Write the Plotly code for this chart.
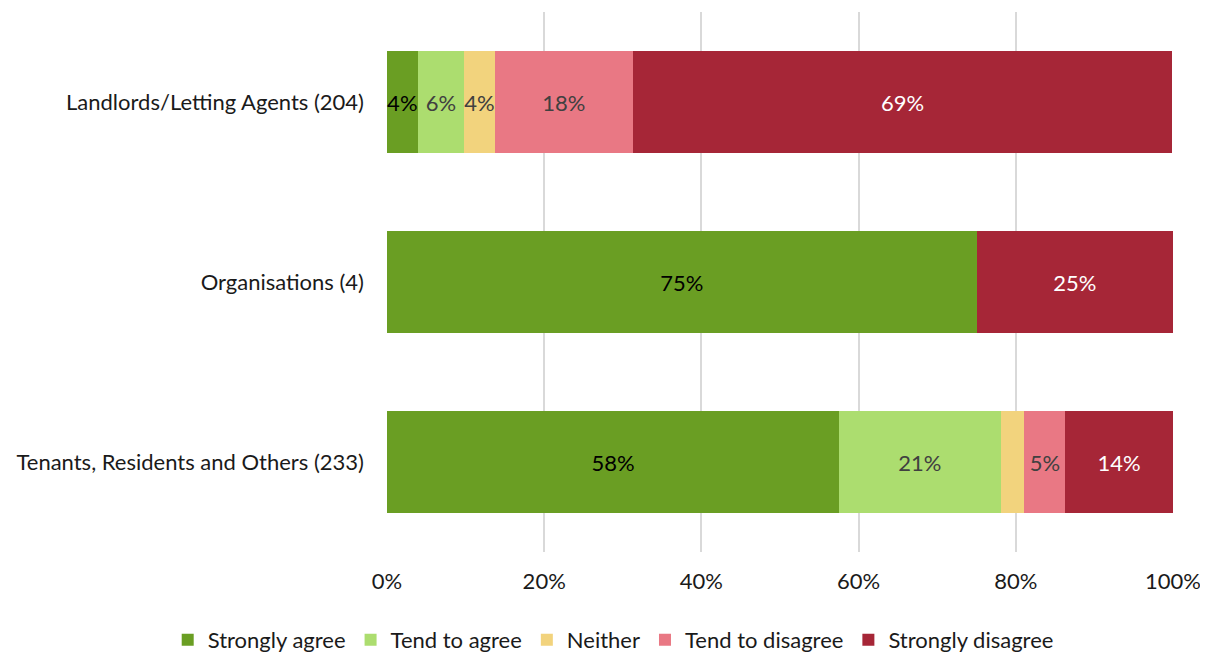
import plotly.graph_objects as go

categories = ["Landlords/Letting Agents (204)", "Organisations (4)", "Tenants, Residents and Others (233)"]
series_names = ["Strongly agree", "Tend to agree", "Neither", "Tend to disagree", "Strongly disagree"]
strongly_agree = [3.9, 75.0, 57.5]
tend_to_agree = [5.9, 0.0, 20.6]
neither = [3.9, 0.0, 3.0]
tend_to_disagree = [17.6, 0.0, 5.2]
strongly_disagree = [68.6, 25.0, 13.7]
labels = [
    ["4%", "75%", "58%"],
    ["6%", "", "21%"],
    ["4%", "", ""],
    ["18%", "", "5%"],
    ["69%", "25%", "14%"],
]
colors = ["#6a9e23", "#acdd6f", "#f2d37d", "#e97884", "#a62637"]
text_colors = ["#000000", "#404040", "#404040", "#404040", "#ffffff"]
tick_vals = [0, 20, 40, 60, 80, 100]
tick_text = ["0%", "20%", "40%", "60%", "80%", "100%"]

values = [strongly_agree, tend_to_agree, neither, tend_to_disagree, strongly_disagree]
FS = 22

fig = go.Figure()
for name, vals, col, tcol, lab in zip(series_names, values, colors, text_colors, labels):
    fig.add_trace(go.Bar(
        name=name, y=categories, x=vals, orientation="h",
        marker=dict(color=col, line=dict(width=0)),
        text=lab, textposition="inside", insidetextanchor="middle",
        textangle=0,
        textfont=dict(color=tcol, size=FS, family="Lato"),
        constraintext="none", cliponaxis=False,
        hoverinfo="x+name",
    ))

fig.update_layout(
    barmode="stack",
    width=1200, height=653,
    margin=dict(l=379, r=35, t=4, b=109, autoexpand=False),
    plot_bgcolor="white", paper_bgcolor="white",
    bargap=0.43,
    font=dict(family="Lato", size=FS, color="#1a1a1a"),
    legend=dict(orientation="h", xref="paper", x=-0.279, xanchor="left",
                yref="paper", y=-0.163, yanchor="middle",
                font=dict(size=FS, color="#1a1a1a"), traceorder="normal",
                itemwidth=30, itemsizing="constant"),
    xaxis=dict(range=[0, 100], tickvals=tick_vals, ticktext=tick_text,
               showgrid=True, gridcolor="#d9d9d9", gridwidth=1.5, zeroline=False,
               showline=False, ticks="", ticklabelstandoff=14, automargin=False,
               ticklabeloverflow="allow",
               tickfont=dict(size=FS, color="#1a1a1a")),
    yaxis=dict(autorange="reversed", showgrid=False, showline=False, ticks="",
               ticklabelstandoff=22, automargin=False,
               tickfont=dict(size=FS, color="#1a1a1a")),
)

fig.write_html("out.html")
